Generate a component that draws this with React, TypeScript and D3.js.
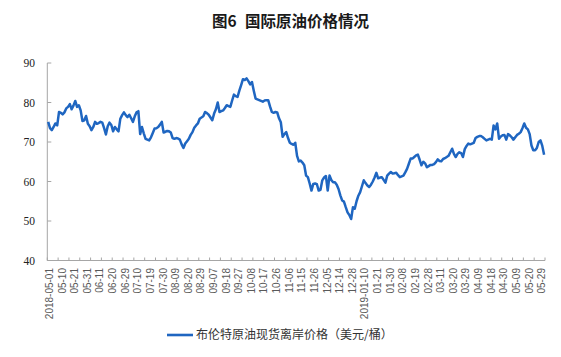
import React from "react";
import * as d3 from "d3";

const titleHead = "图6";
const titleBody = "国际原油价格情况";
const legendLabel = "布伦特原油现货离岸价格（美元/桶）";

const tickLabels = [
  "2018-05-01", "05-10", "05-21", "05-31", "06-11", "06-20", "06-29", "07-10", "07-19", "07-30",
  "08-09", "08-20", "08-29", "09-07", "09-18", "09-27", "10-08", "10-17", "10-26", "11-06",
  "11-15", "11-26", "12-05", "12-14", "12-28", "2019-01-10", "01-21", "01-30", "02-08", "02-19",
  "02-28", "03-11", "03-20", "03-29", "04-09", "04-18", "04-30", "05-09", "05-20", "05-29",
];
const labelEvery = 7;
const tickEvery = 6;

const yTicks = [40, 50, 60, 70, 80, 90];

const brent = [
  75.1, 73.5, 73.0, 73.8, 74.7, 74.2, 77.6, 77.4, 77.0, 77.5,
  78.5, 78.9, 79.6, 78.3, 79.2, 80.4, 78.9, 79.3, 78.0, 75.3,
  75.5, 76.6, 74.6, 74.0, 73.0, 73.8, 75.1, 74.6, 74.8, 75.1,
  74.9, 73.5, 71.9, 74.0, 74.9, 74.3, 72.7, 73.8, 73.2, 72.7,
  75.9, 76.8, 77.5, 76.8, 76.3, 76.9, 76.0, 75.1, 76.5, 77.5,
  77.8, 72.0, 73.8, 72.2, 70.8, 70.6, 70.4, 71.2, 72.3, 73.4,
  73.5, 73.8, 74.4, 75.1, 72.4, 72.6, 72.8, 72.7, 72.4, 71.0,
  70.8, 71.0, 70.9, 70.6, 69.4, 68.5, 69.6, 70.2, 70.8, 71.8,
  72.5, 73.6, 74.2, 74.7, 75.9, 76.2, 76.5, 77.6, 77.3, 76.9,
  76.2, 75.5, 77.2, 78.3, 80.0, 77.6, 77.8, 78.0, 78.6, 79.3,
  79.1, 78.9, 80.5, 82.0, 81.6, 81.4, 83.0, 84.4, 85.9, 85.7,
  86.1, 85.4, 84.6, 85.2, 83.0, 81.0, 80.8, 80.6, 80.4, 80.2,
  80.5, 80.6, 80.6, 79.0, 77.6, 77.4, 77.6, 77.5, 76.0, 75.0,
  71.3, 72.0, 72.5, 71.0, 69.8, 69.5, 69.3, 69.8, 66.5, 65.1,
  65.3, 64.8, 64.1, 61.5, 61.1, 59.5, 57.7, 59.4, 59.5, 59.3,
  57.7, 57.9, 60.3, 61.0, 61.4, 57.7, 61.5, 60.4, 59.8, 59.8,
  59.2, 58.1, 56.5, 55.2, 54.9, 53.5, 52.2, 51.5, 50.5, 53.5,
  53.1, 55.0, 56.4, 57.3, 58.8, 60.3, 59.6, 59.0, 58.6, 59.2,
  60.0, 61.0, 62.2, 60.8, 61.0, 61.1, 60.4, 59.7, 61.5, 62.0,
  62.4, 62.0, 62.1, 62.2, 61.6, 61.1, 61.3, 61.5, 62.3, 63.2,
  64.5, 65.8, 65.8, 66.2, 66.6, 66.8, 65.5, 64.1, 65.0, 64.6,
  63.6, 63.9, 64.2, 64.2, 64.4, 64.9, 65.6, 65.2, 65.1, 65.7,
  65.9, 66.2, 66.5, 67.4, 68.3, 67.0, 66.2, 67.0, 67.4, 67.2,
  66.2, 68.2, 69.0, 69.6, 69.4, 69.6, 69.8, 71.0, 71.3, 71.5,
  71.5, 71.2, 70.8, 70.4, 70.6, 70.8, 70.6, 74.2, 73.2, 74.7,
  70.8, 71.4, 71.7, 71.8, 70.6, 72.0, 71.7, 71.2, 70.6, 71.2,
  71.8, 72.1, 72.5, 73.5, 74.7, 73.6, 73.2, 72.0, 69.1, 67.9,
  67.9, 68.5, 70.0, 70.4, 69.0, 66.8,
];

const W = 561;
const H = 357;
const left = 47.3;
const right = 545;
const top = 63;
const bottom = 260.5;
const axisColor = "#a6a6a6";
const lineColor = "#1f66c1";

export default function App() {
  const n = brent.length;
  const band = (right - left) / n;
  const x = (i: number) => left + (i + 0.5) * band;
  const boundary = (i: number) => left + i * band;
  const y = d3.scaleLinear().domain([40, 90]).range([bottom, top]);
  const line = d3
    .line<number>()
    .x((_, i) => x(i))
    .y((d) => y(d))
    .curve(d3.curveLinear);

  const tickIdx = d3.range(0, n + 1, tickEvery);

  return (
    <svg
      width={W}
      height={H}
      style={{ position: "absolute", left: 0, top: 0, background: "#fff" }}
    >
      <text
        x={212}
        y={27}
        fontFamily="'Noto Sans CJK SC', sans-serif"
        fontSize={15.5}
        fontWeight="bold"
        fill="#1a1a1a"
      >
        {titleHead}
        <tspan x={245}>{titleBody}</tspan>
      </text>

      {/* y axis */}
      <line x1={left} x2={left} y1={top} y2={bottom} stroke={axisColor} strokeWidth={1} />
      {yTicks.map((t) => (
        <g key={t}>
          <line x1={left} x2={left + 4} y1={y(t)} y2={y(t)} stroke={axisColor} strokeWidth={1} />
          <text
            x={35}
            y={y(t)}
            dy="0.35em"
            textAnchor="end"
            fontFamily="'Liberation Serif', 'Times New Roman', serif"
            fontSize={11.5}
            fill="#222"
          >
            {t}
          </text>
        </g>
      ))}

      {/* x axis */}
      <line x1={left} x2={right} y1={bottom} y2={bottom} stroke={axisColor} strokeWidth={1} />
      {tickIdx.map((i) => (
        <line
          key={i}
          x1={boundary(i)}
          x2={boundary(i)}
          y1={bottom}
          y2={bottom - 3}
          stroke={axisColor}
          strokeWidth={1}
        />
      ))}
      {tickLabels.map((lab, k) => {
        const cx = x(k * labelEvery) + 1.2;
        const ty = 268;
        return (
          <text
            key={lab}
            transform={`translate(${cx},${ty}) rotate(-90)`}
            dy="0.35em"
            textAnchor="end"
            fontFamily="'Liberation Sans', Arial, sans-serif"
            fontSize={10}
            fill="#595959"
          >
            {lab}
          </text>
        );
      })}

      <path d={line(brent) ?? ""} fill="none" stroke={lineColor} strokeWidth={2.5} strokeLinejoin="round" />

      {/* legend */}
      <line x1={167} x2={193} y1={335} y2={335} stroke={lineColor} strokeWidth={2.6} />
      <text
        x={196}
        y={335}
        dy="0.35em"
        fontFamily="'Noto Sans CJK SC', sans-serif"
        fontSize={12}
        fill="#333"
      >
        {legendLabel}
      </text>
    </svg>
  );
}
